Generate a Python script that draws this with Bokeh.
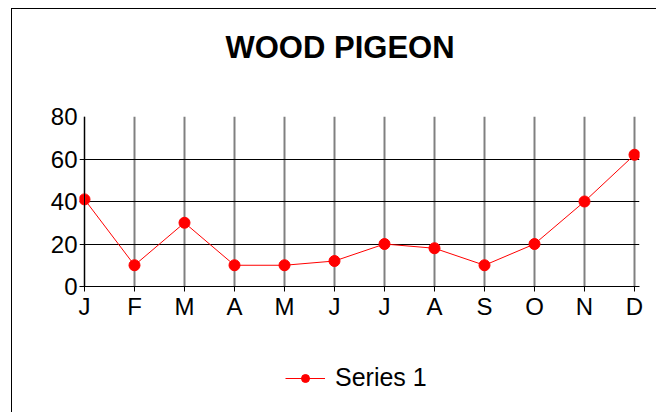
from bokeh.plotting import figure
from bokeh.models import Range1d, FixedTicker, Legend, LegendItem, Title, Span
from bokeh.layouts import column
from bokeh.embed import file_html
from bokeh.resources import INLINE

months = ["J", "F", "M", "A", "M", "J", "J", "A", "S", "O", "N", "D"]
values = [41, 10, 30, 10, 10, 12, 20, 18, 10, 20, 40, 62]
y_ticks = [0, 20, 40, 60, 80]
title_text = "WOOD PIGEON"
series_name = "Series 1"

xs = list(range(len(months)))
FONT = "Liberation Sans"
PAD = 0.1

p = figure(width=644, height=331, output_backend="svg", toolbar_location=None,
           x_range=Range1d(-PAD, len(months) - 1 + PAD), y_range=Range1d(0, 80),
           min_border_left=67, min_border_right=17, min_border_top=107, min_border_bottom=54)

p.title.text = title_text
p.title.align = "left"
p.title.text_font = FONT
p.title.text_font_size = "31px"
p.title.text_font_style = "bold"
p.title.text_color = "black"
p.title.offset = 146
p.title.standoff = 36

spacer = Title(text=" ", text_font_size="10px", standoff=21)
p.add_layout(spacer, "above")

p.outline_line_color = None
p.background_fill_color = "white"
p.border_fill_color = "white"

p.xaxis.ticker = FixedTicker(ticks=xs)
p.xaxis.major_label_overrides = {i: m for i, m in enumerate(months)}
p.yaxis.ticker = FixedTicker(ticks=y_ticks)
for ax in (p.xaxis, p.yaxis):
    ax.major_label_text_font = FONT
    ax.major_label_text_font_size = "24px"
    ax.major_label_text_color = "black"
    ax.axis_line_color = "black"
    ax.major_tick_line_color = "black"
    ax.major_tick_in = 0
    ax.major_tick_out = 5
    ax.minor_tick_line_color = None
p.xaxis.major_label_standoff = 1
# y axis: the grid lines' short stub left of the J line plays the tick marks
p.yaxis.axis_line_color = None
p.yaxis.major_tick_out = 0
p.yaxis.major_label_standoff = 2

p.xgrid.grid_line_color = "#808080"
p.xgrid.grid_line_width = 2
p.ygrid.grid_line_color = "black"
p.ygrid.grid_line_width = 1

# value axis line drawn at the first category
p.add_layout(Span(location=xs[0], dimension="height", line_color="black", line_width=1))

ln = p.line(xs, values, line_color="#ff0000", line_width=1)
sc = p.scatter(xs, values, size=11, fill_color="#ff0000", line_color="#ff0000")

# legend strip below the chart (its own ranges keep the sample glyphs off-screen)
lf = figure(width=644, height=72, output_backend="svg", toolbar_location=None,
            x_range=Range1d(1000, 1001), y_range=Range1d(1000, 1001),
            x_axis_location=None, y_axis_location=None,
            min_border_left=0, min_border_right=0, min_border_top=0, min_border_bottom=0)
lf.grid.visible = False
lf.outline_line_color = None
lf.border_fill_color = "white"
lln = lf.line(xs, values, line_color="#ff0000", line_width=1)
lsc = lf.scatter(xs, values, size=11, fill_color="#ff0000", line_color="#ff0000")
legend = Legend(items=[LegendItem(label=series_name, renderers=[lln, lsc])],
                location=(206, 20), orientation="horizontal",
                label_text_font=FONT, label_text_font_size="25px", label_text_color="black",
                glyph_width=40, glyph_height=20, border_line_color=None,
                background_fill_alpha=0, padding=0, margin=0, label_standoff=10)
lf.add_layout(legend)

layout = column(p, lf, spacing=0,
                styles={"margin-left": "11px", "margin-top": "8px",
                        "border-left": "1px solid black", "border-top": "1px solid black"})

open("out.html", "w").write(file_html(layout, INLINE))
